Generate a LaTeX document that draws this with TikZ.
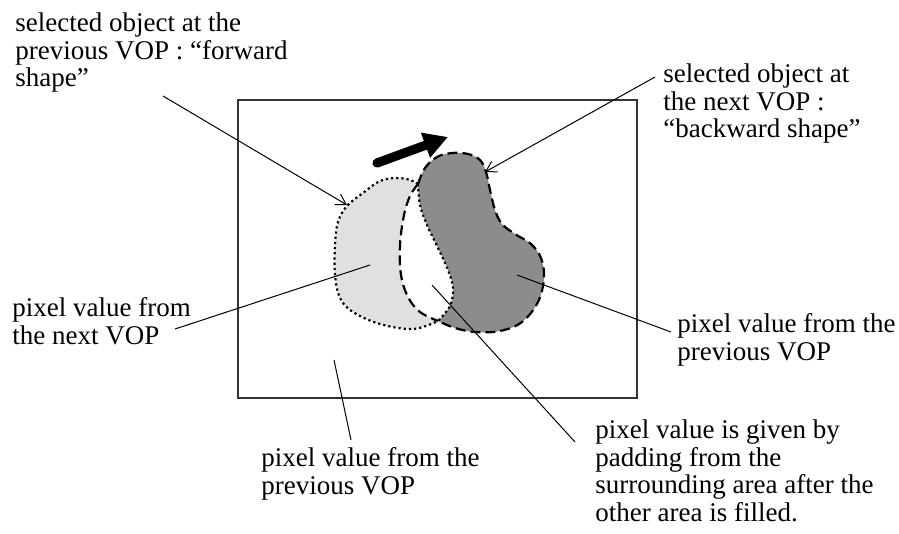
\documentclass[tikz,border=0pt]{standalone}
\usepackage{fontspec}
\setmainfont{Liberation Serif}
\usetikzlibrary{arrows.meta}
\definecolor{fwdfill}{HTML}{E0E0E0}
\definecolor{bwdfill}{HTML}{8C8C8C}
\definecolor{framegray}{HTML}{333333}
\tikzset{
  lbl/.style={anchor=base west, inner sep=0pt, align=left,
    font=\fontsize{13.5}{13.75}\selectfont},
  leader/.style={line width=0.5pt},
  arrleader/.style={leader, -{Straight Barb[length=5pt,width=6pt]}},
  fwdline/.style={line width=1.1pt, dash pattern=on 1.1pt off 1.5pt},
  bwdline/.style={line width=1.1pt, dash pattern=on 5pt off 2.5pt},
  motion/.style={line width=4.6pt, line cap=round, -{Triangle[length=12pt,width=12.5pt]}}
}

\begin{document}
\begin{tikzpicture}[x=0.5pt,y=-0.5pt]
  \useasboundingbox (0,0) rectangle (899,534);
  % frame of the VOP
  \draw[framegray, line width=0.7pt] (238,100) rectangle (637,398);

  % the two shapes meet at J1 (top) and J2 (bottom)
  \coordinate (J1) at (418,184);
  \coordinate (J2) at (438,321);
  \fill[fwdfill] plot[smooth, tension=0.6] coordinates {(418,184) (410,180) (397,178) (380,181) (363,193) (347,206) (338,222) (335,245) (335,275) (340,298) (353,312) (380,324) (413,329) (438,321)}
    -- plot[smooth, tension=0.6] coordinates {(438,321) (420,312) (408,297) (401,275) (400,245) (404,215) (410,196) (418,184)} -- cycle;
  \fill[bwdfill] plot[smooth, tension=0.6] coordinates {(418,184) (425,168) (437,157) (452,153) (468,154) (480,160) (486,172) (490,190) (495,210) (502,224) (515,234) (531,244) (541,258) (544,278) (538,302) (522,322) (500,331) (475,332) (455,328) (438,321)}
    -- plot[smooth, tension=0.6] coordinates {(438,321) (450,306) (453,288) (448,270) (438,248) (427,225) (420,205) (418,184)} -- cycle;

  % forward shape (dotted)
  \draw[fwdline] plot[smooth, tension=0.6] coordinates {(418,184) (410,180) (397,178) (380,181) (363,193) (347,206) (338,222) (335,245) (335,275) (340,298) (353,312) (380,324) (413,329) (438,321)};
  \draw[fwdline] plot[smooth, tension=0.6] coordinates {(418,184) (420,205) (427,225) (438,248) (448,270) (453,288) (450,306) (438,321)};
  % backward shape (dashed)
  \draw[bwdline] plot[smooth, tension=0.6] coordinates {(418,184) (425,168) (437,157) (452,153) (468,154) (480,160) (486,172) (490,190) (495,210) (502,224) (515,234) (531,244) (541,258) (544,278) (538,302) (522,322) (500,331) (475,332) (455,328) (438,321)};
  \draw[bwdline] plot[smooth, tension=0.6] coordinates {(418,184) (410,196) (404,215) (400,245) (401,275) (408,297) (420,312) (438,321)};

  % motion
  \coordinate (mvfrom) at (377,163);
  \coordinate (mvto) at (448,137);
  \draw[motion] (mvfrom) -- (mvto);

  % labels (anchored at the baseline of their last line)
  \node[lbl] (fwdlbl) at (15,87) {selected object at the\\previous VOP : “forward\\shape”};
  \node[lbl] (bwdlbl) at (663,138) {selected object at\\the next VOP :\\“backward shape”};
  \node[lbl] (nextlbl) at (12,344) {pixel value from\\the next VOP};
  \node[lbl] (prevlbl) at (677,360) {pixel value from the\\previous VOP};
  \node[lbl] (bglbl) at (261,494) {pixel value from the\\previous VOP};
  \node[lbl] (padlbl) at (595,521) {pixel value is given by\\padding from the\\surrounding area after the\\other area is filled.};

  % leaders
  \coordinate (fwdfrom) at (163,96);   \coordinate (fwdto) at (347,205);
  \coordinate (bwdfrom) at (655,77);   \coordinate (bwdto) at (485,172);
  \coordinate (nextfrom) at (175,329); \coordinate (nextto) at (370,265);
  \coordinate (prevfrom) at (671,332); \coordinate (prevto) at (517,275);
  \coordinate (bgfrom) at (351,440);   \coordinate (bgto) at (334,360);
  \coordinate (padfrom) at (575,442);  \coordinate (padto) at (432,285);
  \draw[arrleader] (fwdfrom) -- (fwdto);
  \draw[arrleader] (bwdfrom) -- (bwdto);
  \draw[leader] (nextfrom) -- (nextto);
  \draw[leader] (prevfrom) -- (prevto);
  \draw[leader] (bgfrom) -- (bgto);
  \draw[leader] (padfrom) -- (padto);
\end{tikzpicture}
\end{document}
